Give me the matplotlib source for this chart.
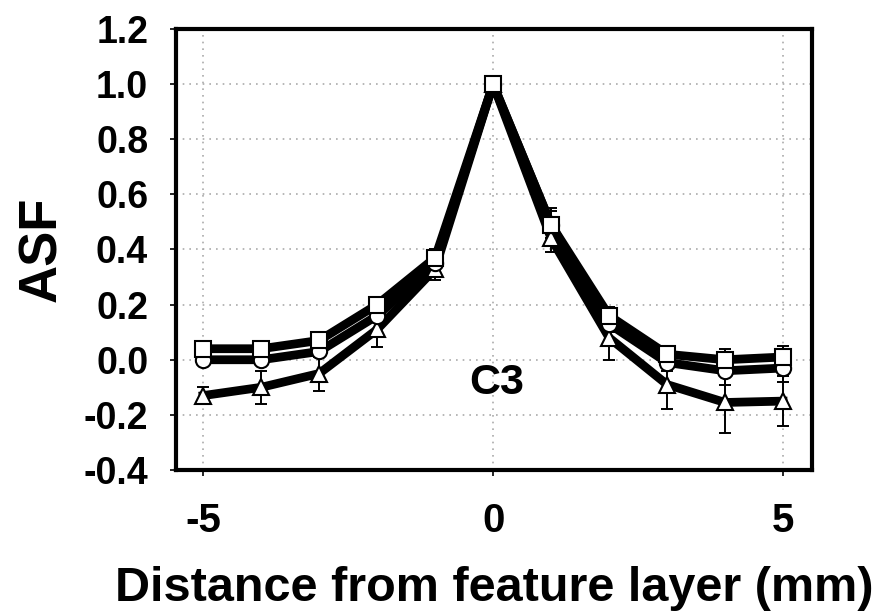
import numpy as np
import matplotlib.pyplot as plt

plt.rcParams['font.family'] = ['Liberation Sans', 'DejaVu Sans']
plt.rcParams['font.weight'] = 'bold'
plt.rcParams['axes.unicode_minus'] = False

distance = [-5, -4, -3, -2, -1, 0, 1, 2, 3, 4, 5]

asf_square = [0.04, 0.04, 0.07, 0.20, 0.37, 1.00, 0.49, 0.16, 0.02, 0.00, 0.01]
err_square = [0.02, 0.02, 0.02, 0.02, 0.03, 0.00, 0.05, 0.03, 0.03, 0.04, 0.04]

asf_circle = [0.00, 0.00, 0.03, 0.16, 0.35, 1.00, 0.49, 0.13, -0.01, -0.04, -0.03]
err_circle = [0.02, 0.02, 0.02, 0.02, 0.03, 0.00, 0.06, 0.03, 0.03, 0.05, 0.05]

asf_triangle = [-0.13, -0.10, -0.05, 0.11, 0.33, 1.00, 0.44, 0.08, -0.09, -0.155, -0.15]
err_triangle = [0.03, 0.06, 0.065, 0.065, 0.04, 0.00, 0.05, 0.08, 0.09, 0.11, 0.09]

fig = plt.figure(figsize=(8.84, 6.14), dpi=100)
ax = fig.add_axes([0.199, 0.2345, 0.7196, 0.7183])

series = [(asf_triangle, err_triangle, '^'),
          (asf_circle, err_circle, 'o'),
          (asf_square, err_square, 's')]
for vals, errs, mk in series:
    ax.errorbar(distance, vals, yerr=errs, fmt='none', ecolor='black',
                elinewidth=1.4, capsize=4.5, capthick=1.4, zorder=2)
    ax.plot(distance, vals, color='black', lw=6.3, zorder=3)
    ax.plot(distance, vals, ls='none', marker=mk, ms=11, mfc='white',
            mec='black', mew=1.5, zorder=4)

ax.set_xlim(-5.47, 5.5)
ax.set_ylim(-0.4, 1.2)
ax.set_xticks([-5, 0, 5])
ax.set_yticks(np.arange(-0.4, 1.21, 0.2))
ax.set_yticklabels(['-0.4', '-0.2', '0.0', '0.2', '0.4', '0.6', '0.8', '1.0', '1.2'])
ax.grid(True, ls=(0, (1, 3)), color='#aaaaaa', lw=1.2)
ax.set_axisbelow(True)

for s in ax.spines.values():
    s.set_linewidth(3)
ax.tick_params(axis='y', labelsize=27, length=4, width=1.2, pad=16)
ax.tick_params(axis='x', labelsize=29, length=4, width=1.2, pad=19)

ax.text(0.07, -0.085, 'C3', fontsize=31, fontweight='bold', ha='center', va='center')
ax.set_xlabel('Distance from feature layer (mm)', fontsize=35, fontweight='bold', labelpad=19)
ax.set_ylabel('ASF', fontsize=38, fontweight='bold', labelpad=12)

fig.savefig('out.png', dpi=100)
